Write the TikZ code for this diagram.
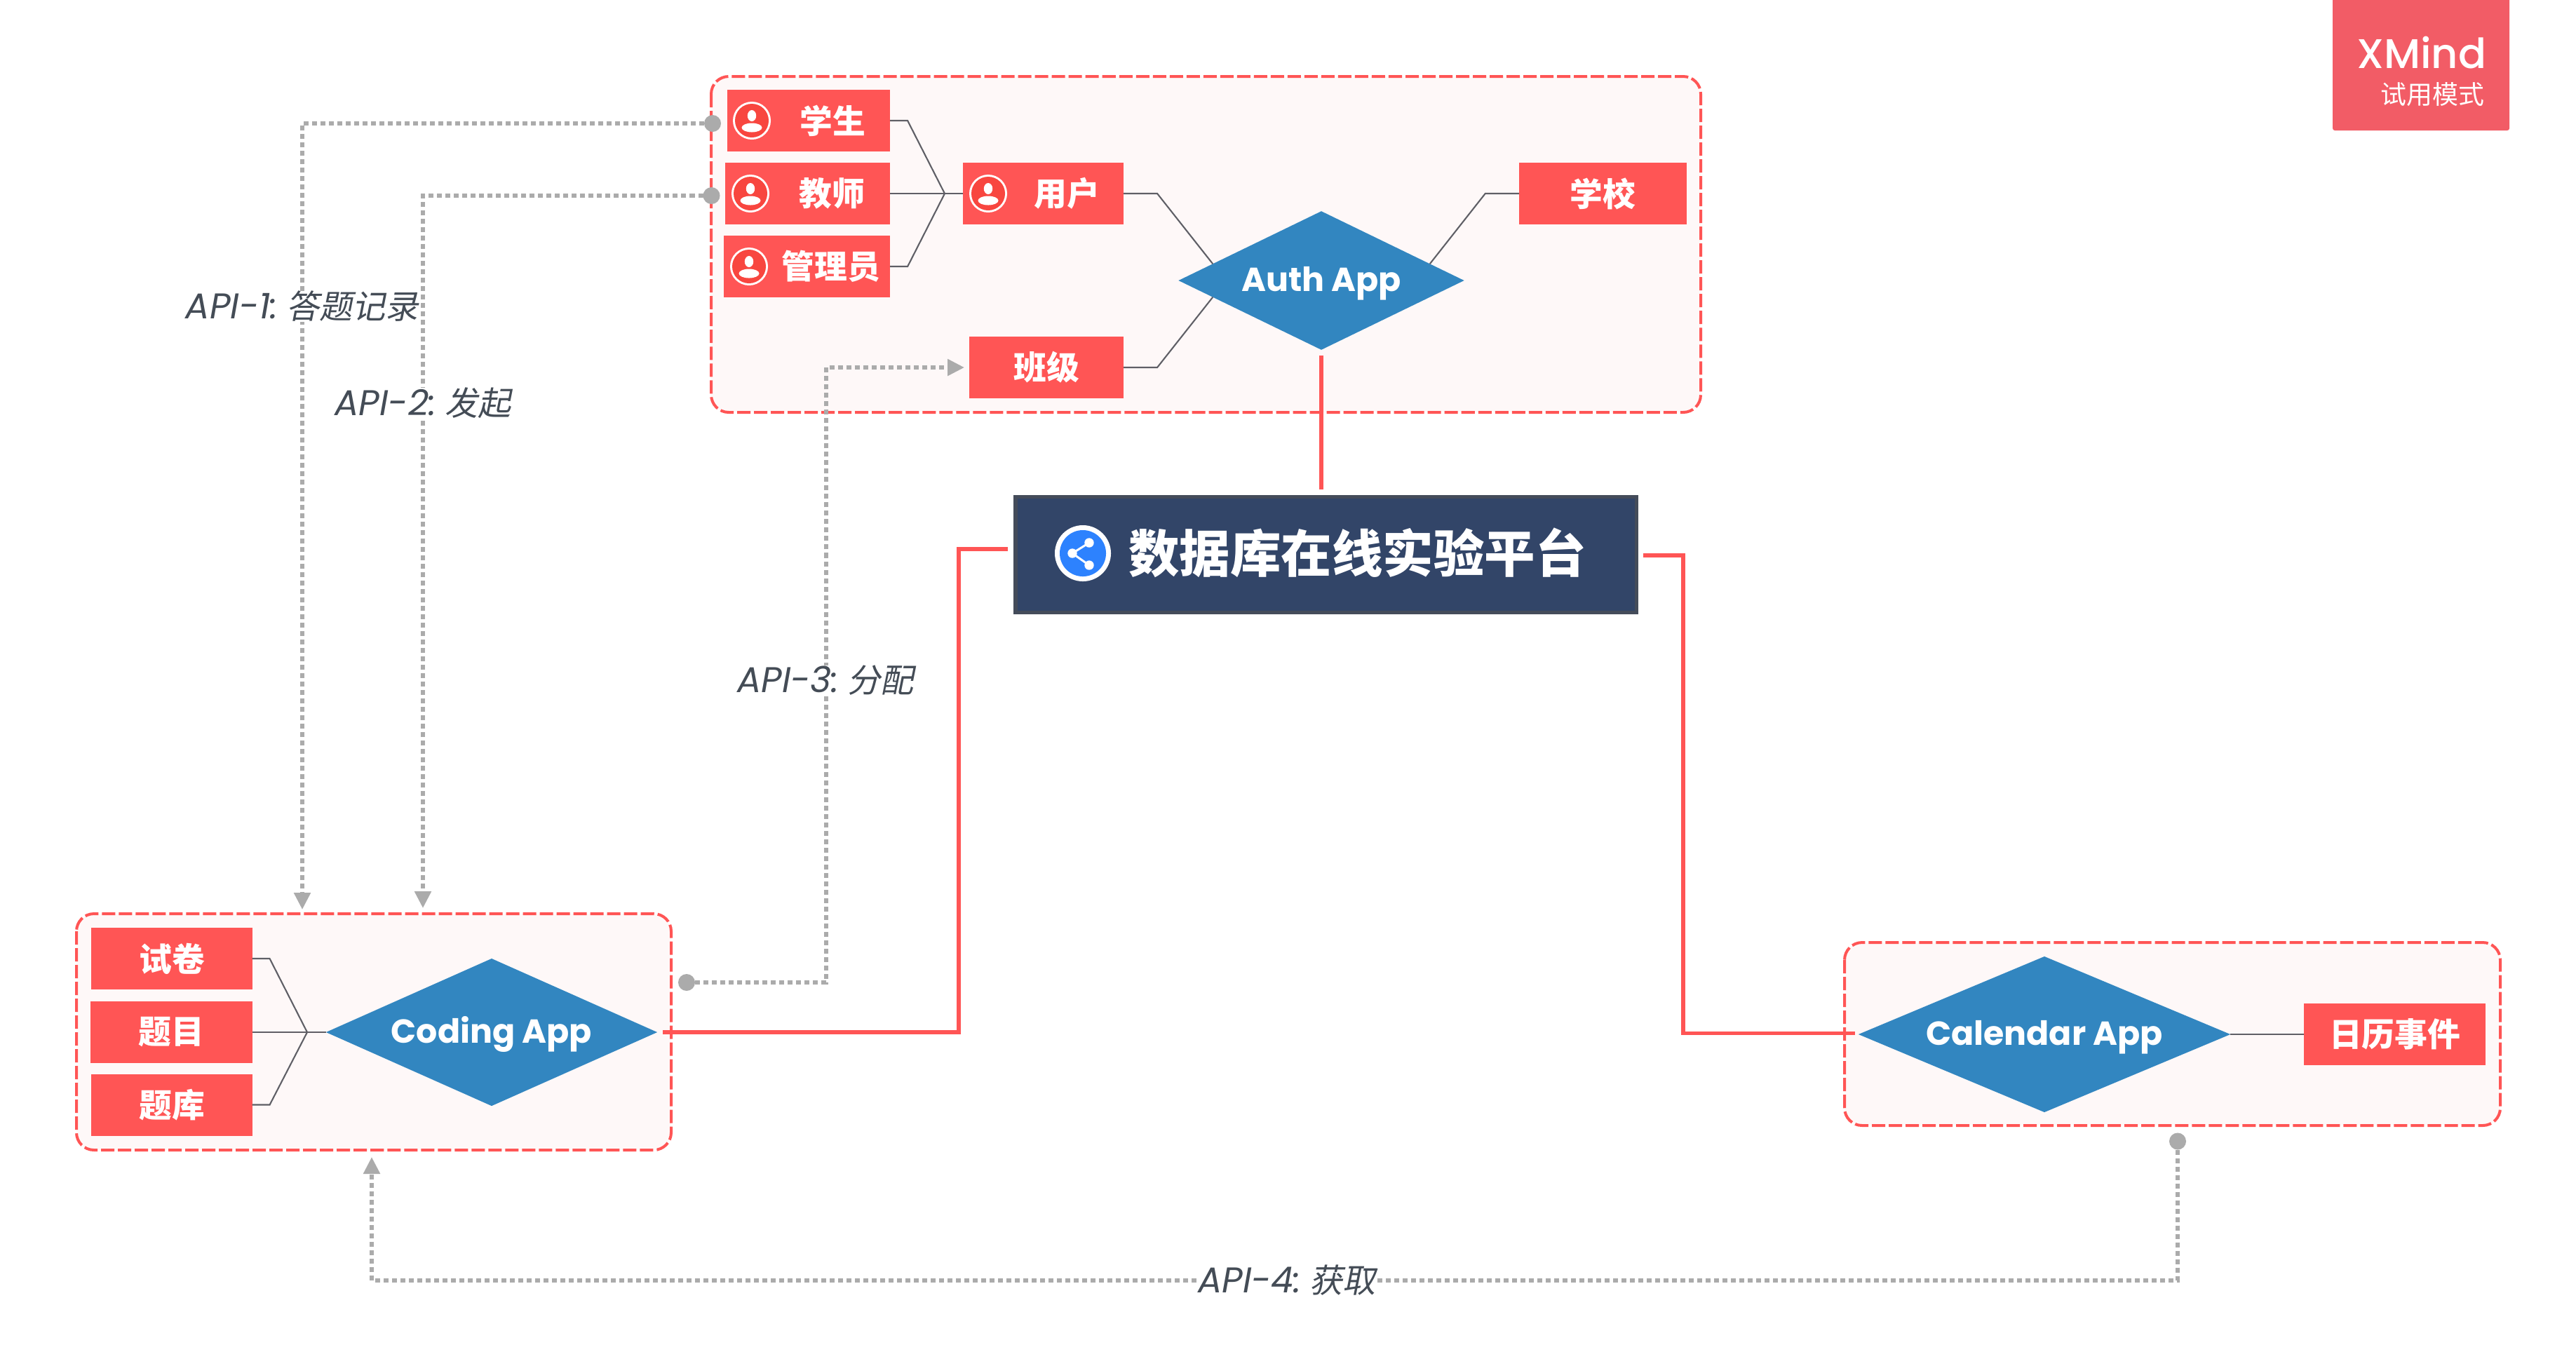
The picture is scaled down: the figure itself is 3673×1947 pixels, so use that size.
\documentclass[tikz,border=0pt]{standalone}
\usepackage{fontspec}
\usepackage{xcolor}
\usetikzlibrary{arrows.meta,calc,shapes.geometric}
\setmainfont{Poppins}
\newfontfamily\cjk{Noto Sans CJK SC}
\newfontfamily\cjkslant[FakeSlant=0.2]{Noto Sans CJK SC}
\newfontfamily\badgefont{Poppins Medium}
\definecolor{boxred}{HTML}{FF5555}
\definecolor{groupfill}{HTML}{FEF8F8}
\definecolor{appblue}{HTML}{3286C0}
\definecolor{mainfill}{HTML}{324568}
\definecolor{mainedge}{HTML}{444C5A}
\definecolor{linkgray}{HTML}{5F5F66}
\definecolor{apigray}{HTML}{ABABAB}
\definecolor{labelgray}{HTML}{444C56}
\definecolor{badgered}{HTML}{F25C66}
\definecolor{iconred}{HTML}{F8463F}
\definecolor{iconblue}{HTML}{2D82FE}
\tikzset{
  redbox/.style={fill=boxred, text=white, minimum height=0.88cm, inner sep=0pt, outer sep=0pt, font=\fontsize{13.3pt}{15pt}\selectfont\cjk\bfseries},
  boxtext/.style={text=white, inner sep=0pt, font=\fontsize{13.3pt}{15pt}\selectfont\cjk\bfseries},
  groupbox/.style={draw=boxred, fill=groupfill, line width=0.04cm, rounded corners=0.25cm, dash pattern=on 0.19cm off 0.05cm},
  appdiamond/.style={diamond, fill=appblue, text=white, inner sep=0pt, outer sep=0pt, font=\fontsize{13.5pt}{15pt}\selectfont\bfseries},
  linkline/.style={draw=linkgray, line width=0.021cm},
  mainline/.style={draw=boxred, line width=0.058cm},
  apiline/.style={draw=apigray, line width=0.055cm, dash pattern=on 0.07cm off 0.05cm, -{Triangle[length=0.24cm,width=0.23cm]}},
  apidot/.style={circle, fill=apigray, minimum size=0.24cm, inner sep=0pt, outer sep=0pt},
  apilabel/.style={text=labelgray, fill=white, inner sep=0pt, font=\fontsize{14.5pt}{16pt}\selectfont\itshape}
}
\newcommand{\apitext}[2]{#1\kern0.12cm{\fontsize{13.4pt}{16pt}\selectfont\cjkslant #2}}
\newcommand{\apptext}[1]{\raisebox{0pt}[0.3cm][0pt]{#1}}
\begin{document}
\begin{tikzpicture}[x=0.01cm,y=-0.01cm]
\path[use as bounding box] (0,0) rectangle (3673,1947);

% groups
\draw[groupbox] (1014,109) rectangle (2425,588);
\draw[groupbox] (109,1303) rectangle (957,1640);
\draw[groupbox] (2630,1344) rectangle (3565,1605);

% auth app
\node[redbox, minimum width=2.32cm] (student) at (1153,172) {};
\node[redbox, minimum width=2.345cm] (teacher) at (1151.7,276) {};
\node[redbox, minimum width=2.365cm] (admin) at (1150.8,380) {};
\node[redbox, minimum width=2.29cm] (user) at (1487.5,276) {};
\node[redbox, minimum width=2.2cm] (classes) at (1492,524) {班级};
\node[redbox, minimum width=2.394cm] (school) at (2285.5,276) {学校};
\node[boxtext] (studenttext) at (1187,172) {学生};
\node[boxtext] (teachertext) at (1186,276) {教师};
\node[boxtext] (admintext) at (1185,380) {管理员};
\node[boxtext] (usertext) at (1521,276) {用户};
\node[appdiamond, shape aspect=2.06, minimum width=4.07cm, minimum height=1.975cm] (auth) at (1884,400) {\apptext{Auth App}};

\coordinate (userin) at ($(auth.west)!0.24!(auth.north)$);
\coordinate (classin) at ($(auth.west)!0.24!(auth.south)$);
\coordinate (schoolin) at ($(auth.east)!0.24!(auth.north)$);
\draw[linkline] (student.east) -- ++(25,0) -- (1347,276);
\draw[linkline] (admin.east) -- ++(25,0) -- (1347,276);
\draw[linkline] (teacher.east) -- (user.west);
\draw[linkline] (user.east) -- ++(48,0) -- (userin);
\draw[linkline] (classes.east) -- ++(48,0) -- (classin);
\draw[linkline] (school.west) -- ++(-48,0) -- (schoolin);

% coding app
\node[redbox, minimum width=2.29cm] (paper) at (245,1367) {试卷};
\node[redbox, minimum width=2.305cm] (question) at (244.2,1472) {题目};
\node[redbox, minimum width=2.29cm] (bank) at (245,1575.5) {题库};
\node[appdiamond, shape aspect=2.25, minimum width=4.72cm, minimum height=2.1cm] (coding) at (701,1472) {\apptext{Coding App}};
\draw[linkline] (paper.east) -- ++(25,0) -- (438,1472);
\draw[linkline] (bank.east) -- ++(25,0) -- (438,1472);
\draw[linkline] (question.east) -- (coding.west);

% calendar app
\node[appdiamond, shape aspect=2.39, minimum width=5.3cm, minimum height=2.22cm] (calendar) at (2915,1475) {\apptext{Calendar App}};
\node[redbox, minimum width=2.59cm] (event) at (3414.5,1475) {日历事件};
\draw[linkline] (calendar.east) -- (event.west);

% main topic
\node[fill=mainfill, draw=mainedge, line width=0.055cm, minimum width=8.85cm, minimum height=1.65cm, inner sep=0pt] (main) at (1890.5,791) {};
\node[text=white, inner sep=0pt, font=\fontsize{20.6pt}{24pt}\selectfont\cjk\bfseries] (maintext) at (1935.5,788) {数据库在线实验平台};

% main links
\coordinate (mainleft) at (1437,783);
\coordinate (mainright) at (2343,792);
\coordinate (calendarin) at (2645,1473.5);
\coordinate (leftbus) at (1367,1100);
\coordinate (rightbus) at (2400,1100);
\draw[mainline, shorten <=0.08cm, shorten >=0.08cm] (auth.south) -- (auth.south |- main.north);
\draw[mainline, shorten <=0.08cm] (coding.east) -| (leftbus) |- (mainleft);
\draw[mainline] (mainright) -| (rightbus) |- (calendarin);

% icons
\foreach \iconx/\icony in {1072/172,1070/276,1068/380,1409/276}{
  \fill[white] (\iconx,\icony) circle (0.27cm);
  \fill[iconred] (\iconx,\icony) circle (0.24cm);
  \fill[white] (\iconx,\icony-7) ellipse (0.062cm and 0.08cm);
  \fill[white] (\iconx,\icony+10) ellipse (0.145cm and 0.065cm);
}
\fill[white] (1544,789) circle (0.4cm);
\fill[iconblue] (1544,789) circle (0.33cm);
\draw[white, line width=0.03cm] (1553,774) -- (1529,789) -- (1553,806);
\fill[white] (1553,774) circle (0.067cm);
\fill[white] (1529,789) circle (0.067cm);
\fill[white] (1553,806) circle (0.067cm);

% api links
\node[apidot] (apia) at (1016,176) {};
\node[apidot] (apib) at (1014.5,279) {};
\node[apidot] (apic) at (979,1401) {};
\node[apidot] (apid) at (3105,1627.5) {};
\coordinate (apiaend) at (431,1297);
\coordinate (apibend) at (603,1295);
\coordinate (apicend) at (1375,524);
\coordinate (apidend) at (530,1650);
\coordinate (apicbus) at (1178,1000);
\coordinate (apidbus) at (1800,1826);
\draw[apiline] (apia) -| (apiaend);
\draw[apiline] (apib) -| (apibend);
\draw[apiline] (apic) -| (apicbus) |- (apicend);
\draw[apiline] (apid) |- (apidbus) -| (apidend);

\node[apilabel] (apialabel) at (431,437) {\apitext{API-1:}{答题记录}};
\node[apilabel] (apiblabel) at (603,575) {\apitext{API-2:}{发起}};
\node[apilabel] (apiclabel) at (1177,970) {\apitext{API-3:}{分配}};
\node[apilabel] (apidlabel) at (1835,1826) {\apitext{API-4:}{获取}};

% badge
\fill[badgered, rounded corners=0.03cm] (3326,0) -- (3326,186) -- (3578,186) -- (3578,0);
\node[text=white, anchor=base east, inner sep=0pt, font=\fontsize{16.8pt}{18pt}\selectfont\badgefont] (badgetitle) at (3546,97.7) {XMind};
\node[text=white, anchor=east, inner sep=0pt, font=\fontsize{10.5pt}{12pt}\selectfont\cjk] (badgemode) at (3543,135) {试用模式};
\end{tikzpicture}
\end{document}
